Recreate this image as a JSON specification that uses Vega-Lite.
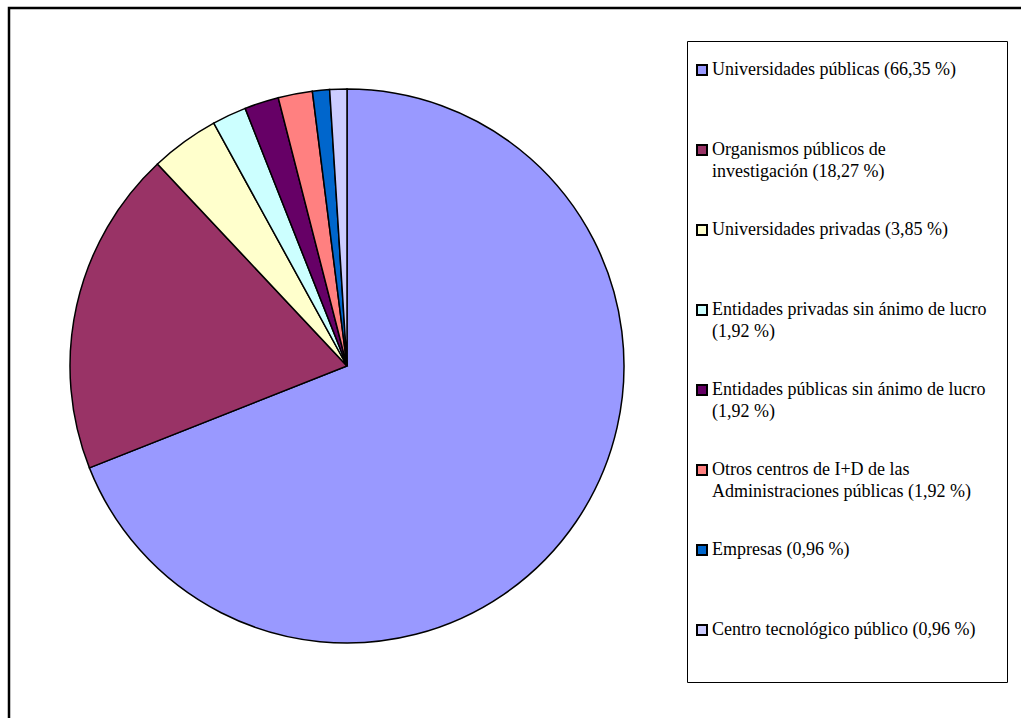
{
  "$schema": "https://vega.github.io/schema/vega-lite/v6.json",
  "width": 1030,
  "height": 720,
  "autosize": {"type": "none"},
  "padding": {"left": 9, "top": 8, "right": 0, "bottom": 0},
  "background": "white",
  "config": {"view": {"stroke": "black", "strokeWidth": 2.5}},
  "data": {
    "values": [
      {"idx": 1, "label": "Universidades públicas (66,35 %)", "pct": 66.35},
      {"idx": 2, "label": "Organismos públicos de|investigación (18,27 %)", "pct": 18.27},
      {"idx": 3, "label": "Universidades privadas (3,85 %)", "pct": 3.85},
      {"idx": 4, "label": "Entidades privadas sin ánimo de lucro|(1,92 %)", "pct": 1.92},
      {"idx": 5, "label": "Entidades públicas sin ánimo de lucro|(1,92 %)", "pct": 1.92},
      {"idx": 6, "label": "Otros centros de I+D de las|Administraciones públicas (1,92 %)", "pct": 1.92},
      {"idx": 7, "label": "Empresas (0,96 %)", "pct": 0.96},
      {"idx": 8, "label": "Centro tecnológico público (0,96 %)", "pct": 0.96}
    ]
  },
  "mark": {"type": "arc", "outerRadius": 277, "stroke": "black", "strokeWidth": 1.5},
  "encoding": {
    "theta": {"field": "pct", "type": "quantitative", "stack": true},
    "order": {"field": "idx", "type": "quantitative"},
    "x": {"value": 338},
    "y": {"value": 358},
    "color": {
      "field": "label",
      "type": "nominal",
      "scale": {
        "domain": [
          "Universidades públicas (66,35 %)",
          "Organismos públicos de|investigación (18,27 %)",
          "Universidades privadas (3,85 %)",
          "Entidades privadas sin ánimo de lucro|(1,92 %)",
          "Entidades públicas sin ánimo de lucro|(1,92 %)",
          "Otros centros de I+D de las|Administraciones públicas (1,92 %)",
          "Empresas (0,96 %)",
          "Centro tecnológico público (0,96 %)"
        ],
        "range": ["#9999FF", "#993366", "#FFFFCC", "#CCFFFF", "#660066", "#FF8080", "#0066CC", "#CCCCFF"]
      },
      "legend": {
        "orient": "none",
        "legendX": 678,
        "legendY": 33,
        "title": " ",
        "titleOrient": "bottom",
        "titleFontSize": 13,
        "titlePadding": 10,
        "symbolType": "square",
        "symbolSize": 100,
        "symbolStrokeColor": "black",
        "symbolStrokeWidth": 2,
        "symbolOpacity": 1,
        "symbolOffset": -14,
        "labelFont": "Liberation Serif",
        "labelFontSize": 18,
        "labelColor": "black",
        "labelLimit": 400,
        "labelOffset": 1,
        "labelBaseline": "middle",
        "labelExpr": "split(datum.label, '|')",
        "gridAlign": "all",
        "rowPadding": 40,
        "padding": 20,
        "strokeColor": "black",
        "fillColor": "white",
        "encode": {"labels": {"update": {"lineHeight": {"value": 22}}}}
      }
    }
  }
}
